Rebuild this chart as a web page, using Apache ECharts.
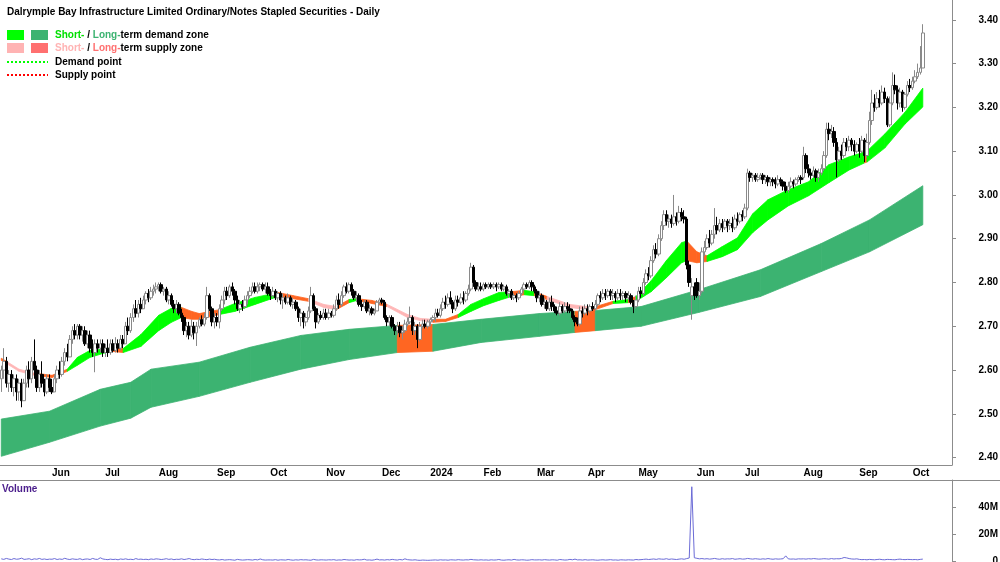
<!DOCTYPE html>
<html>
<head>
<meta charset="utf-8">
<script src="https://cdn.jsdelivr.net/npm/echarts@6/dist/echarts.min.js"></script>
<style>
  html, body { margin: 0; padding: 0; background: #fff; }
  #chart { width: 1000px; height: 562px; }
</style>
</head>
<body>
<div id="chart"></div>
<script>
var FONT = "'Liberation Sans', Arial, sans-serif";

// ASX trading holidays inside the range
var holidays = ["2023-06-12", "2023-12-25", "2023-12-26", "2024-01-01", "2024-01-26",
  "2024-03-29", "2024-04-01", "2024-04-25", "2024-06-10"];
var monthNames = ["Jan", "Feb", "Mar", "Apr", "May", "Jun", "Jul", "Aug", "Sep", "Oct", "Nov", "Dec"];

// daily candles: [open, close, low, high]
var ohlc = [
  // May 2023
  [2.58,2.60,2.55,2.61],[2.60,2.62,2.58,2.65],[2.62,2.57,2.56,2.63],[2.57,2.59,2.55,2.60],[2.59,2.56,2.55,2.60],
  [2.56,2.58,2.54,2.59],[2.58,2.55,2.53,2.59],[2.55,2.57,2.53,2.58],[2.57,2.53,2.515,2.58],[2.53,2.57,2.53,2.58],
  [2.57,2.60,2.56,2.61],[2.60,2.58,2.56,2.62],[2.58,2.62,2.57,2.63],[2.62,2.60,2.58,2.67],[2.60,2.56,2.55,2.61],
  [2.56,2.59,2.55,2.60],[2.59,2.57,2.56,2.62],[2.57,2.55,2.54,2.58],[2.55,2.58,2.545,2.59],[2.58,2.56,2.55,2.59],
  // Jun 2023
  [2.56,2.55,2.545,2.58],[2.55,2.58,2.55,2.59],[2.58,2.60,2.57,2.61],[2.60,2.59,2.58,2.62],[2.59,2.62,2.585,2.63],
  [2.62,2.64,2.61,2.65],[2.64,2.63,2.62,2.66],[2.63,2.67,2.63,2.68],[2.67,2.69,2.66,2.70],[2.69,2.68,2.67,2.705],
  [2.68,2.70,2.67,2.705],[2.70,2.68,2.67,2.705],[2.68,2.69,2.665,2.70],[2.69,2.66,2.655,2.70],[2.66,2.68,2.65,2.69],
  [2.68,2.65,2.64,2.69],[2.65,2.64,2.63,2.67],[2.64,2.66,2.595,2.67],[2.66,2.65,2.64,2.67],[2.65,2.66,2.64,2.67],
  [2.66,2.64,2.63,2.67],
  // Jul 2023
  [2.64,2.65,2.63,2.66],[2.65,2.64,2.63,2.67],[2.64,2.66,2.635,2.67],[2.66,2.645,2.64,2.67],[2.645,2.66,2.64,2.675],
  [2.66,2.65,2.64,2.67],[2.65,2.67,2.645,2.68],[2.67,2.66,2.65,2.68],[2.66,2.70,2.66,2.71],[2.70,2.69,2.68,2.72],
  [2.69,2.72,2.685,2.73],[2.72,2.74,2.71,2.75],[2.74,2.73,2.72,2.76],[2.73,2.75,2.72,2.76],[2.75,2.74,2.73,2.765],
  [2.74,2.76,2.74,2.77],[2.76,2.775,2.75,2.78],[2.775,2.765,2.755,2.785],[2.765,2.78,2.76,2.79],[2.78,2.785,2.77,2.795],
  [2.785,2.79,2.775,2.80],
  // Aug 2023
  [2.79,2.795,2.78,2.80],[2.795,2.78,2.775,2.80],[2.78,2.785,2.77,2.79],[2.785,2.76,2.755,2.79],[2.76,2.77,2.75,2.78],
  [2.77,2.75,2.745,2.775],[2.75,2.74,2.73,2.76],[2.74,2.75,2.73,2.76],[2.75,2.73,2.725,2.755],[2.73,2.72,2.71,2.74],
  [2.72,2.69,2.68,2.725],[2.69,2.70,2.675,2.71],[2.70,2.68,2.67,2.71],[2.68,2.70,2.675,2.715],[2.70,2.685,2.67,2.71],
  [2.685,2.70,2.655,2.71],[2.70,2.715,2.695,2.72],[2.715,2.705,2.70,2.725],[2.705,2.72,2.70,2.73],[2.72,2.77,2.715,2.79],
  [2.77,2.74,2.735,2.775],[2.74,2.71,2.70,2.745],[2.71,2.72,2.695,2.73],
  // Sep 2023
  [2.72,2.71,2.70,2.73],[2.71,2.74,2.695,2.75],[2.74,2.76,2.735,2.77],[2.76,2.78,2.75,2.79],[2.78,2.77,2.76,2.79],
  [2.77,2.79,2.765,2.795],[2.79,2.78,2.77,2.80],[2.78,2.76,2.75,2.785],[2.76,2.74,2.735,2.77],[2.74,2.75,2.73,2.76],
  [2.75,2.745,2.735,2.76],[2.745,2.76,2.74,2.77],[2.76,2.77,2.75,2.78],[2.77,2.78,2.765,2.79],[2.78,2.79,2.775,2.80],
  [2.79,2.78,2.775,2.80],[2.78,2.79,2.775,2.80],[2.79,2.795,2.78,2.80],[2.795,2.785,2.78,2.80],[2.785,2.79,2.775,2.80],
  [2.79,2.775,2.77,2.80],
  // Oct 2023
  [2.775,2.77,2.76,2.785],[2.77,2.78,2.765,2.79],[2.78,2.765,2.76,2.785],[2.765,2.775,2.755,2.78],[2.775,2.76,2.75,2.78],
  [2.76,2.765,2.74,2.775],[2.765,2.755,2.75,2.77],[2.755,2.765,2.75,2.775],[2.765,2.75,2.745,2.77],[2.75,2.755,2.74,2.765],
  [2.755,2.74,2.735,2.76],[2.74,2.72,2.71,2.745],[2.72,2.73,2.70,2.74],[2.73,2.71,2.695,2.735],[2.71,2.72,2.70,2.73],
  [2.72,2.735,2.715,2.745],[2.735,2.77,2.73,2.79],[2.77,2.74,2.735,2.775],[2.74,2.71,2.695,2.745],[2.71,2.725,2.705,2.73],
  [2.725,2.72,2.715,2.735],[2.72,2.73,2.715,2.74],
  // Nov 2023
  [2.73,2.72,2.715,2.74],[2.72,2.73,2.715,2.74],[2.73,2.725,2.72,2.735],[2.725,2.74,2.72,2.75],[2.74,2.76,2.735,2.77],
  [2.76,2.75,2.74,2.775],[2.75,2.77,2.745,2.78],[2.77,2.79,2.765,2.795],[2.79,2.78,2.775,2.80],[2.78,2.795,2.775,2.80],
  [2.795,2.78,2.77,2.80],[2.78,2.765,2.76,2.785],[2.765,2.77,2.755,2.78],[2.77,2.75,2.745,2.775],[2.75,2.745,2.735,2.76],
  [2.745,2.755,2.74,2.76],[2.755,2.735,2.73,2.76],[2.735,2.74,2.725,2.75],[2.74,2.73,2.725,2.745],[2.73,2.735,2.725,2.74],
  [2.735,2.755,2.735,2.76],[2.755,2.76,2.75,2.765],
  // Dec 2023
  [2.76,2.755,2.75,2.765],[2.755,2.72,2.715,2.76],[2.72,2.71,2.70,2.725],[2.71,2.72,2.70,2.725],[2.72,2.70,2.695,2.725],
  [2.70,2.69,2.68,2.705],[2.69,2.70,2.68,2.71],[2.70,2.685,2.675,2.71],[2.685,2.69,2.67,2.70],[2.69,2.705,2.685,2.715],
  [2.705,2.71,2.70,2.72],[2.71,2.72,2.705,2.745],[2.72,2.69,2.68,2.725],[2.69,2.70,2.68,2.71],[2.70,2.67,2.65,2.705],
  [2.67,2.70,2.665,2.71],[2.70,2.705,2.695,2.715],[2.705,2.70,2.695,2.715],[2.70,2.71,2.695,2.715],
  // Jan 2024
  [2.71,2.715,2.70,2.72],[2.715,2.72,2.71,2.725],[2.72,2.73,2.71,2.74],[2.73,2.725,2.72,2.74],[2.725,2.74,2.72,2.75],
  [2.74,2.755,2.735,2.765],[2.755,2.75,2.74,2.77],[2.75,2.765,2.745,2.775],[2.765,2.755,2.75,2.78],[2.755,2.74,2.73,2.76],
  [2.74,2.76,2.735,2.77],[2.76,2.755,2.745,2.77],[2.755,2.765,2.75,2.775],[2.765,2.76,2.75,2.78],[2.76,2.775,2.755,2.78],
  [2.775,2.785,2.77,2.795],[2.785,2.835,2.78,2.845],[2.835,2.80,2.79,2.84],[2.80,2.785,2.78,2.805],[2.785,2.79,2.78,2.80],
  [2.79,2.785,2.78,2.80],
  // Feb 2024
  [2.785,2.795,2.78,2.80],[2.795,2.79,2.785,2.80],[2.79,2.795,2.785,2.80],[2.795,2.79,2.785,2.80],[2.79,2.795,2.785,2.80],
  [2.795,2.79,2.78,2.80],[2.79,2.795,2.785,2.80],[2.795,2.785,2.78,2.80],[2.785,2.79,2.78,2.795],[2.79,2.775,2.77,2.795],
  [2.775,2.78,2.765,2.785],[2.78,2.765,2.76,2.785],[2.765,2.77,2.76,2.775],[2.77,2.765,2.755,2.775],[2.765,2.775,2.76,2.78],
  [2.775,2.785,2.77,2.79],[2.785,2.795,2.78,2.80],[2.795,2.79,2.785,2.80],[2.79,2.80,2.785,2.805],[2.80,2.79,2.78,2.805],
  [2.79,2.78,2.775,2.795],
  // Mar 2024
  [2.78,2.765,2.755,2.785],[2.765,2.77,2.755,2.78],[2.77,2.75,2.745,2.775],[2.75,2.755,2.74,2.765],[2.755,2.74,2.735,2.76],
  [2.74,2.755,2.735,2.765],[2.755,2.745,2.735,2.77],[2.745,2.735,2.73,2.75],[2.735,2.73,2.725,2.745],[2.73,2.745,2.725,2.755],
  [2.745,2.735,2.73,2.75],[2.735,2.745,2.73,2.755],[2.745,2.74,2.73,2.755],[2.74,2.735,2.73,2.75],[2.735,2.72,2.715,2.74],
  [2.72,2.71,2.70,2.725],[2.71,2.705,2.70,2.72],[2.705,2.735,2.70,2.745],[2.735,2.73,2.72,2.745],[2.73,2.74,2.725,2.75],
  // Apr 2024
  [2.74,2.735,2.725,2.75],[2.735,2.745,2.73,2.75],[2.745,2.74,2.735,2.755],[2.74,2.75,2.735,2.76],[2.75,2.77,2.745,2.775],
  [2.77,2.765,2.755,2.78],[2.765,2.775,2.76,2.785],[2.775,2.77,2.76,2.785],[2.77,2.78,2.765,2.785],[2.78,2.77,2.76,2.785],
  [2.77,2.775,2.76,2.785],[2.775,2.765,2.755,2.78],[2.765,2.775,2.76,2.785],[2.775,2.77,2.76,2.785],[2.77,2.775,2.76,2.78],
  [2.775,2.765,2.755,2.78],[2.765,2.77,2.76,2.78],[2.77,2.755,2.75,2.775],[2.755,2.745,2.73,2.76],[2.745,2.76,2.74,2.77],
  // May 2024
  [2.76,2.78,2.755,2.79],[2.78,2.775,2.765,2.79],[2.775,2.80,2.77,2.81],[2.80,2.82,2.795,2.83],[2.82,2.815,2.805,2.835],
  [2.815,2.85,2.81,2.86],[2.85,2.875,2.845,2.885],[2.875,2.865,2.855,2.89],[2.865,2.90,2.86,2.91],[2.90,2.93,2.895,2.94],
  [2.93,2.955,2.92,2.965],[2.955,2.94,2.93,2.965],[2.94,2.945,2.925,2.955],[2.945,2.935,2.925,2.955],[2.935,2.95,2.93,3.00],
  [2.95,2.94,2.93,2.96],[2.94,2.96,2.935,2.975],[2.96,2.95,2.94,2.97],[2.95,2.945,2.935,2.965],[2.945,2.84,2.83,2.95],
  [2.84,2.80,2.79,2.85],[2.77,2.79,2.715,2.81],[2.79,2.77,2.76,2.80],
  // Jun 2024
  [2.80,2.77,2.765,2.81],[2.77,2.78,2.76,2.80],[2.78,2.87,2.775,2.88],[2.87,2.88,2.86,2.895],[2.88,2.90,2.875,2.91],
  [2.90,2.89,2.88,2.92],[2.89,2.91,2.885,2.92],[2.91,2.93,2.90,2.97],[2.93,2.92,2.91,2.95],[2.92,2.935,2.915,2.945],
  [2.935,2.925,2.915,2.945],[2.925,2.94,2.92,2.945],[2.94,2.93,2.915,2.945],[2.93,2.935,2.92,2.945],[2.935,2.925,2.915,2.95],
  [2.925,2.945,2.92,2.955],[2.945,2.94,2.93,2.96],[2.94,2.955,2.935,2.96],[2.955,2.95,2.94,2.965],
  // Jul 2024
  [2.95,2.97,2.945,2.98],[2.97,3.05,2.965,3.06],[3.05,3.04,3.03,3.055],[3.04,3.045,3.03,3.05],[3.045,3.035,3.03,3.05],
  [3.035,3.04,3.03,3.05],[3.04,3.045,3.035,3.05],[3.045,3.035,3.025,3.05],[3.035,3.04,3.025,3.045],[3.04,3.03,3.02,3.045],
  [3.03,3.035,3.02,3.04],[3.035,3.03,3.02,3.04],[3.03,3.025,3.015,3.04],[3.025,3.035,3.02,3.045],[3.035,3.03,3.02,3.04],
  [3.03,3.02,3.01,3.035],[3.02,3.01,3.005,3.03],[3.01,3.02,3.005,3.03],[3.02,3.03,3.015,3.04],[3.03,3.025,3.015,3.035],
  [3.025,3.035,3.02,3.04],[3.035,3.04,3.03,3.045],[3.04,3.035,3.025,3.045],
  // Aug 2024
  [3.04,3.09,3.035,3.11],[3.09,3.06,3.05,3.095],[3.06,3.05,3.04,3.07],[3.05,3.045,3.035,3.06],[3.045,3.055,3.04,3.065],
  [3.055,3.04,3.03,3.06],[3.04,3.05,3.03,3.06],[3.05,3.06,3.045,3.07],[3.06,3.09,3.055,3.10],[3.09,3.15,3.085,3.165],
  [3.15,3.14,3.125,3.165],[3.14,3.145,3.13,3.16],[3.145,3.12,3.11,3.155],[3.12,3.08,3.04,3.13],[3.08,3.10,3.075,3.11],
  [3.10,3.09,3.08,3.115],[3.09,3.12,3.085,3.13],[3.12,3.11,3.10,3.13],[3.11,3.125,3.10,3.135],[3.125,3.115,3.10,3.13],
  [3.115,3.10,3.09,3.125],[3.10,3.115,3.095,3.12],
  // Sep 2024
  [3.115,3.10,3.085,3.13],[3.10,3.125,3.095,3.135],[3.125,3.09,3.075,3.13],[3.09,3.12,3.085,3.14],[3.12,3.17,3.115,3.19],
  [3.17,3.21,3.16,3.24],[3.21,3.20,3.19,3.23],[3.20,3.22,3.195,3.235],[3.22,3.21,3.20,3.24],[3.21,3.235,3.205,3.25],
  [3.235,3.22,3.21,3.245],[3.22,3.16,3.155,3.225],[3.16,3.21,3.155,3.225],[3.21,3.25,3.205,3.28],[3.25,3.24,3.23,3.275],
  [3.24,3.21,3.195,3.25],[3.21,3.235,3.20,3.245],[3.235,3.20,3.19,3.24],[3.20,3.23,3.195,3.235],[3.23,3.25,3.225,3.26],
  [3.25,3.245,3.235,3.265],
  // Oct 2024
  [3.245,3.26,3.24,3.27],[3.26,3.27,3.255,3.285],[3.27,3.28,3.265,3.30],[3.28,3.29,3.275,3.34],[3.29,3.37,3.29,3.39]
];

// daily volume, millions
var volume = [
  1.6,1.2,1.9,1.4,1.1,1.8,1.3,1.5,2.1,1.2,1.4,1.7,1.0,1.6,1.3,1.9,1.2,1.5,1.1,1.4,
  1.3,1.8,1.1,1.5,1.2,2.0,1.4,1.1,1.6,1.3,1.2,1.7,1.0,1.4,1.5,1.1,1.9,1.3,1.2,2.4,1.5,
  1.2,1.0,1.4,1.1,1.3,0.9,1.5,1.2,1.6,1.1,1.3,1.0,1.8,1.2,1.4,1.1,1.3,1.0,1.5,1.2,1.6,
  1.4,1.1,1.3,1.7,1.2,1.5,1.0,1.3,1.2,1.6,1.1,1.4,1.8,1.2,1.0,1.3,1.1,1.5,1.2,1.0,1.4,1.1,1.3,
  0.9,0.8,1.1,0.7,0.9,1.0,0.8,0.6,1.2,0.9,0.7,0.8,1.0,0.9,0.7,1.1,0.8,1.5,0.9,0.7,0.8,
  0.8,0.7,1.0,0.6,0.9,0.8,0.7,1.1,0.8,0.6,0.9,0.7,1.0,0.8,0.9,0.7,0.6,1.2,0.8,0.7,0.9,0.8,
  0.7,0.9,0.8,1.0,0.6,0.8,0.7,1.1,0.9,0.7,0.8,0.6,1.0,0.8,0.9,1.3,0.7,0.8,0.6,0.9,1.4,0.8,
  0.9,0.7,1.0,0.8,1.2,0.9,0.7,1.1,0.8,1.6,1.0,0.8,0.7,0.9,0.6,0.5,0.7,0.6,0.5,
  0.6,0.7,0.8,0.6,0.9,0.7,0.8,0.6,0.9,0.8,0.7,1.0,0.8,0.7,0.9,0.8,1.2,0.9,0.8,0.7,0.9,
  0.7,0.8,0.6,0.9,0.7,0.8,1.1,0.7,0.6,0.8,0.9,0.7,1.2,0.8,0.7,0.9,0.8,0.6,0.7,1.0,0.8,
  0.8,0.9,0.7,1.0,0.8,0.7,0.9,0.8,0.6,1.1,0.9,0.7,0.8,1.2,0.9,1.4,0.8,0.9,0.7,1.0,
  0.7,0.8,0.9,0.7,0.6,0.8,0.9,0.7,0.8,1.0,0.7,0.8,0.6,0.9,0.8,0.7,0.9,0.8,0.7,1.1,
  0.9,1.0,1.2,1.4,1.1,1.3,1.5,1.2,1.6,1.4,1.3,1.7,1.2,1.5,1.3,1.1,1.4,1.6,1.3,1.8,2.2,55,2.4,
  2.0,1.6,1.8,1.5,1.7,1.4,1.6,1.9,1.5,1.3,1.7,1.4,1.6,1.5,1.8,1.3,1.5,1.7,1.4,
  1.5,1.9,1.6,1.4,1.7,1.5,1.3,1.6,1.4,1.8,1.5,1.3,1.6,1.4,1.5,1.7,3.8,1.6,1.4,1.5,1.3,1.6,1.5,
  1.6,1.4,1.7,1.5,1.8,1.6,1.4,1.5,1.7,1.6,1.4,1.8,1.5,1.7,1.6,1.9,2.6,2.3,1.8,1.5,1.4,1.6,
  1.2,1.0,1.1,0.9,1.2,1.0,0.9,1.1,1.3,1.0,0.9,1.2,1.1,1.0,0.9,1.2,1.4,1.1,1.0,1.2,1.1,
  1.0,1.1,0.9,1.2,1.4
];

// short-term zone: bar index, upper and lower edge, state of each stretch (g demand, o / p supply)
var shortIdx = [0,2,7,13,20,26,30,35,43,48,55,62,67,71,75,78,86,92,100,109,
  115,121,127,132,137,140,146,152,160,165,170,175,180,185,190,196,201,206,210,215,
  224,233,241,247,250,256,262,268,270,274,278,284,290,296,302,310,318,326,334,340,
  341,348,356,363];
var shortHi = [2.627,2.620,2.602,2.593,2.588,2.602,2.629,2.645,2.649,2.649,2.681,2.725,2.741,2.743,2.734,2.729,2.738,2.752,2.766,2.777,
  2.770,2.763,2.750,2.745,2.761,2.763,2.759,2.750,2.727,2.718,2.716,2.716,2.727,2.750,2.763,2.777,2.779,2.782,2.779,2.768,
  2.750,2.743,2.757,2.761,2.768,2.804,2.850,2.891,2.895,2.870,2.861,2.882,2.902,2.957,2.989,3.012,3.030,3.069,3.087,3.098,
  3.100,3.139,3.189,3.244];
var shortLo = [2.622,2.615,2.597,2.588,2.583,2.597,2.611,2.629,2.643,2.640,2.654,2.690,2.709,2.720,2.716,2.716,2.727,2.734,2.750,2.768,
  2.763,2.757,2.743,2.738,2.754,2.759,2.752,2.745,2.720,2.713,2.709,2.711,2.720,2.734,2.747,2.759,2.768,2.772,2.770,2.761,
  2.743,2.736,2.752,2.754,2.757,2.779,2.811,2.845,2.850,2.845,2.848,2.859,2.875,2.914,2.943,2.975,2.998,3.028,3.057,3.073,
  3.075,3.107,3.162,3.201];
var shortState = ["o","p","p","o","o","g","g","g","o","g","g","g","g","o","o","o","g","g","g","o",
  "o","p","p","o","g","o","o","p","p","p","o","o","g","g","g","g","o","g","o","p",
  "p","o","g","o","g","g","g","g","o","o","g","g","g","g","g","g","g","g","g","o",
  "g","g","g"];

// long-term zone
var longIdx = [0,19,39,51,59,78,98,118,137,156,170,189,212,226,234,252,275,299,323,342,363];
var longHi = [2.488,2.506,2.556,2.572,2.602,2.618,2.652,2.679,2.693,2.702,2.704,2.716,2.729,2.734,2.736,2.745,2.784,2.829,2.889,2.943,3.021];
var longLo = [2.403,2.435,2.472,2.490,2.515,2.540,2.572,2.602,2.624,2.640,2.643,2.663,2.677,2.686,2.690,2.700,2.732,2.768,2.825,2.870,2.932];
var longState = ["g","g","g","g","g","g","g","g","g","o","g","g","g","o","g","g","g","g","g","g"];

var shortColors = { g: "#00FF00", o: "#FF6622", p: "#FFB6B6" };
var longColors = { g: "#3CB371", o: "#FF6622" };

// trading days from 4 May 2023, padded past the last bar
var dates = [];
var d = new Date(2023, 4, 4);
function fmt(dt) {
  var m = dt.getMonth() + 1, dd = dt.getDate();
  return dt.getFullYear() + "-" + (m < 10 ? "0" : "") + m + "-" + (dd < 10 ? "0" : "") + dd;
}
while (dates.length < 375) {
  var wd = d.getDay();
  var s = fmt(d);
  if (wd !== 0 && wd !== 6 && holidays.indexOf(s) < 0) dates.push(s);
  d.setDate(d.getDate() + 1);
}
function monthStart(i) {
  return i > 0 && dates[i].slice(5, 7) !== dates[i - 1].slice(5, 7);
}

function bandData(idx, hi, lo) {
  var out = [];
  for (var k = 0; k < idx.length - 1; k++) {
    out.push([idx[k], lo[k], hi[k], idx[k + 1], lo[k + 1], hi[k + 1], k]);
  }
  return out;
}
function bandRender(st, colors) {
  return function (params, api) {
    var a = api.coord([api.value(0), api.value(2)]);
    var b = api.coord([api.value(3), api.value(5)]);
    var c = api.coord([api.value(3), api.value(4)]);
    var e = api.coord([api.value(0), api.value(1)]);
    var col = colors[st[api.value(6)]];
    return {
      type: "polygon",
      shape: { points: [a, b, c, e] },
      style: { fill: col, stroke: col, lineWidth: 0.8 }
    };
  };
}

var chart = echarts.init(document.getElementById("chart"));
var axisGrey = "#8C8C8C";
var labelStyle = { fontSize: 10, fontWeight: "bold", color: "#000", fontFamily: FONT };
var legendFont = "bold 10px " + FONT;

chart.setOption({
  animation: false,
  backgroundColor: "#fff",
  title: {
    text: "Dalrymple Bay Infrastructure Limited Ordinary/Notes Stapled Securities - Daily",
    left: 2,
    top: 2,
    textStyle: { fontSize: 10, fontWeight: "bold", color: "#000", fontFamily: FONT }
  },
  grid: [
    { left: 0, right: 48, top: 0, height: 465, outerBoundsMode: "none" },
    { left: 0, right: 48, top: 480, height: 81, outerBoundsMode: "none" }
  ],
  xAxis: [
    {
      gridIndex: 0,
      type: "category",
      data: dates,
      boundaryGap: true,
      axisLine: { lineStyle: { color: axisGrey } },
      axisTick: { interval: function (i) { return monthStart(i); }, length: 3, lineStyle: { color: axisGrey } },
      axisLabel: Object.assign({
        interval: function (i) { return monthStart(i); },
        formatter: function (v) {
          var m = parseInt(v.slice(5, 7), 10) - 1;
          return m === 0 ? v.slice(0, 4) : monthNames[m];
        },
        align: "left",
        margin: 3
      }, labelStyle),
      splitLine: { show: false }
    },
    {
      gridIndex: 1,
      type: "category",
      data: dates,
      boundaryGap: true,
      show: false
    }
  ],
  yAxis: [
    {
      gridIndex: 0,
      type: "value",
      position: "right",
      min: 2.3831,
      max: 3.4453,
      splitNumber: 10,
      axisLine: { show: true, lineStyle: { color: axisGrey } },
      axisTick: { show: true, length: 4, lineStyle: { color: axisGrey } },
      axisLabel: Object.assign({
        showMinLabel: false,
        showMaxLabel: false,
        formatter: function (v) { return v.toFixed(2); },
        align: "right",
        margin: 46
      }, labelStyle),
      splitLine: { show: false }
    },
    {
      gridIndex: 1,
      type: "value",
      position: "right",
      min: 0,
      max: 60,
      interval: 20,
      axisLine: { show: true, lineStyle: { color: axisGrey } },
      axisTick: { show: true, length: 4, lineStyle: { color: axisGrey } },
      axisLabel: Object.assign({
        showMaxLabel: false,
        formatter: function (v) { return v === 0 ? "0" : v + "M"; },
        align: "right",
        margin: 46
      }, labelStyle),
      splitLine: { show: false }
    }
  ],
  graphic: [
    { type: "rect", shape: { x: 7, y: 30, width: 17, height: 10 }, style: { fill: "#00FF00" } },
    { type: "rect", shape: { x: 31, y: 30, width: 17, height: 10 }, style: { fill: "#3CB371" } },
    { type: "rect", shape: { x: 7, y: 43, width: 17, height: 10 }, style: { fill: "#FFB3B3" } },
    { type: "rect", shape: { x: 31, y: 43, width: 17, height: 10 }, style: { fill: "#FF7070" } },
    { type: "line", shape: { x1: 7, y1: 62, x2: 48, y2: 62 }, style: { stroke: "#00FF00", lineWidth: 2, lineDash: [2, 2] } },
    { type: "line", shape: { x1: 7, y1: 75, x2: 48, y2: 75 }, style: { stroke: "#FF0000", lineWidth: 2, lineDash: [2, 2] } },
    {
      type: "text", x: 55, y: 35,
      style: {
        text: "{a|Short-} / {b|Long-}term demand zone",
        fill: "#000", font: legendFont, verticalAlign: "middle",
        rich: { a: { fill: "#00E000", font: legendFont }, b: { fill: "#3CB371", font: legendFont } }
      }
    },
    {
      type: "text", x: 55, y: 48,
      style: {
        text: "{a|Short-} / {b|Long-}term supply zone",
        fill: "#000", font: legendFont, verticalAlign: "middle",
        rich: { a: { fill: "#FFB3B3", font: legendFont }, b: { fill: "#FF7070", font: legendFont } }
      }
    },
    { type: "text", x: 55, y: 62, style: { text: "Demand point", fill: "#000", font: legendFont, verticalAlign: "middle" } },
    { type: "text", x: 55, y: 75, style: { text: "Supply point", fill: "#000", font: legendFont, verticalAlign: "middle" } },
    { type: "line", shape: { x1: 0, y1: 480.5, x2: 1000, y2: 480.5 }, style: { stroke: axisGrey, lineWidth: 1 } },
    { type: "text", x: 2, y: 489, style: { text: "Volume", fill: "#4B1E8C", font: legendFont, verticalAlign: "middle" } }
  ],
  series: [
    {
      name: "Long-term zone",
      type: "custom",
      xAxisIndex: 0,
      yAxisIndex: 0,
      clip: true,
      renderItem: bandRender(longState, longColors),
      encode: { x: [0, 3], y: [1, 2, 4, 5] },
      data: bandData(longIdx, longHi, longLo)
    },
    {
      name: "Short-term zone",
      type: "custom",
      xAxisIndex: 0,
      yAxisIndex: 0,
      clip: true,
      renderItem: bandRender(shortState, shortColors),
      encode: { x: [0, 3], y: [1, 2, 4, 5] },
      data: bandData(shortIdx, shortHi, shortLo)
    },
    {
      name: "Price",
      type: "candlestick",
      xAxisIndex: 0,
      yAxisIndex: 0,
      barWidth: 3,
      itemStyle: {
        color: "#FFFFFF",
        color0: "#000000",
        borderColor: "#8A8A8A",
        borderColor0: "#000000",
        borderWidth: 1
      },
      data: ohlc
    },
    {
      name: "Volume",
      type: "line",
      xAxisIndex: 1,
      yAxisIndex: 1,
      symbol: "none",
      lineStyle: { color: "#6B6BD6", width: 1 },
      data: volume
    }
  ]
});
</script>
</body>
</html>
